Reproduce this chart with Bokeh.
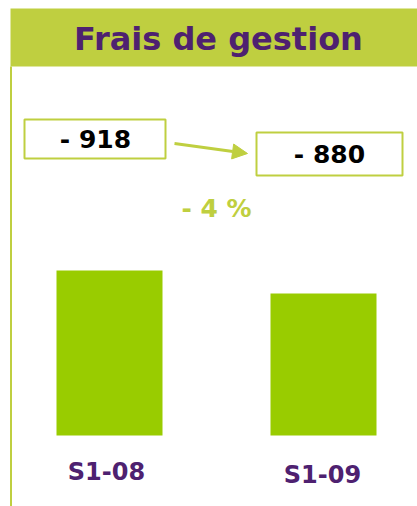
from bokeh.plotting import figure
from bokeh.models import Range1d, Arrow, NormalHead, ColumnDataSource
from bokeh.core.properties import value
from bokeh.embed import file_html
from bokeh.resources import INLINE

# ---- data ----
title_text = "Frais de gestion"
categories = ["S1-08", "S1-09"]
values = [918, 880]
value_labels = ["- 918", "- 880"]
change_label = "- 4 %"

# ---- layout / style ----
W, H = 417, 506
K = 0.6053            # pixels per unit
Y_END = 918 + 270 / K
BASE = 645.5          # truncated axis baseline
GREEN = "#BFCF40"
BAR = "#99CC00"
PURPLE = "#4E2170"
FONT = value("DejaVu Sans")

def sx(px):
    return px

def sy(py):
    return Y_END - py / K

p = figure(width=W, height=H, output_backend="svg", toolbar_location=None,
           x_range=Range1d(0, W), y_range=Range1d(Y_END - H / K, Y_END),
           min_border=0)
p.axis.visible = False
p.grid.visible = False
p.outline_line_color = None
p.background_fill_color = "white"

# header band
p.quad(left=sx(10), right=sx(417), top=sy(8), bottom=sy(66),
       fill_color=GREEN, line_color=None)
p.text(x=[sx(218)], y=[sy(38)], text=[title_text], text_font=FONT,
       text_font_style="bold", text_font_size="32px", text_color=PURPLE,
       text_align="center", text_baseline="middle")
# left border line
p.segment(x0=[sx(10.5)], y0=[sy(66)], x1=[sx(10.5)], y1=[sy(506)],
          line_color=GREEN, line_width=2)

# bars
bar_x = [sx(109), sx(323)]
src = ColumnDataSource(dict(x=bar_x, top=values, bottom=[BASE] * len(values),
                            cat=categories))
p.vbar(x="x", top="top", bottom="bottom", width=106, source=src,
       fill_color=BAR, line_color=None)
p.text(x=[sx(106), sx(322)], y=[sy(471), sy(474)], text=categories,
       text_font=FONT, text_font_style="bold", text_font_size="24px",
       text_color=PURPLE, text_align="center", text_baseline="middle")

# value boxes
p.quad(left=[sx(24), sx(256)], right=[sx(165), sx(402)],
       top=[sy(119), sy(132)], bottom=[sy(158), sy(175)],
       fill_color="white", line_color=GREEN, line_width=2)
p.text(x=[sx(95), sx(329)], y=[sy(139), sy(154)], text=value_labels,
       text_font=FONT, text_font_style="bold", text_font_size="25px",
       text_color="black", text_align="center", text_baseline="middle")

# arrow
p.add_layout(Arrow(x_start=sx(174), y_start=sy(143), x_end=sx(247), y_end=sy(153),
                   line_color=GREEN, line_width=3,
                   end=NormalHead(size=15, fill_color=GREEN, line_color=GREEN)))

# change label
p.text(x=[sx(216)], y=[sy(208)], text=[change_label], text_font=FONT,
       text_font_style="bold", text_font_size="25px", text_color=GREEN,
       text_align="center", text_baseline="middle")

open("out.html", "w").write(file_html(p, INLINE))
